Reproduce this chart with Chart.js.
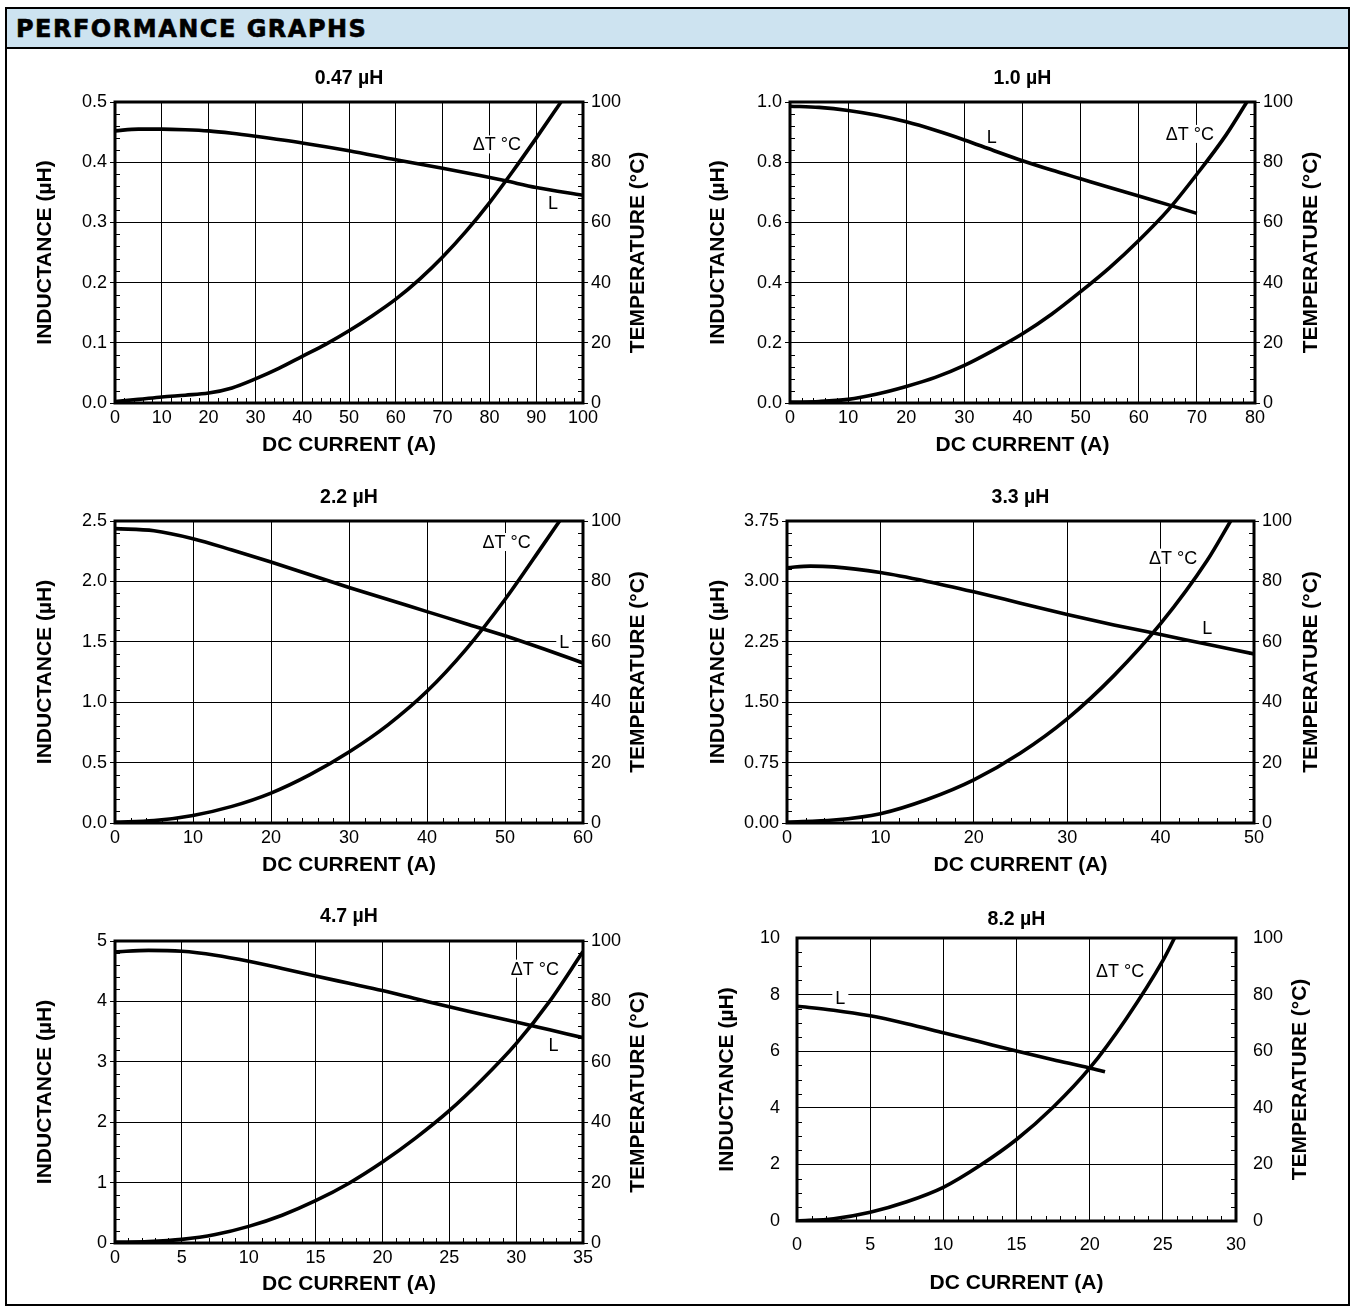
<!DOCTYPE html>
<html>
<head>
<meta charset="utf-8">
<script src="https://cdn.jsdelivr.net/npm/chart.js@4.4.1/dist/chart.umd.min.js"></script>
<style>
html,body{margin:0;padding:0;background:#fff;}
body{width:1354px;height:1310px;position:relative;overflow:hidden;font-family:"Liberation Sans",Arial,sans-serif;}
#frame{position:absolute;left:5px;top:7px;width:1341px;height:1295px;border:2px solid #000;}
#header{position:absolute;left:0;top:0;width:1341px;height:38px;background:#cde3f0;border-bottom:2px solid #000;}
#header span{position:absolute;left:9px;top:1px;line-height:38px;font-family:"DejaVu Sans",sans-serif;font-weight:bold;font-size:24px;letter-spacing:1.5px;color:#000;-webkit-text-stroke:0.6px #000;}
canvas{position:absolute;}
</style>
</head>
<body>
<div id="frame"><div id="header"><span>PERFORMANCE GRAPHS</span></div></div>
<script>
// ---------------- DATA ----------------
const tempTicks = ['0','20','40','60','80','100'];

// 0.47 µH
const xTicks_047 = [0,10,20,30,40,50,60,70,80,90,100];
const lTicks_047 = ['0.0','0.1','0.2','0.3','0.4','0.5'];
const current_047_L = [0,5,10,15,20,25,30,40,50,60,70,78,83.5,90,100];
const inductance_047 = [0.452,0.455,0.455,0.454,0.452,0.448,0.443,0.432,0.419,0.404,0.39,0.378,0.369,0.358,0.345];
const current_047_T = [0,5,10,15,20,25,30,35,40,45,50,55,60,65,70,75,80,85,90,95.3];
const deltaT_047 = [0.5,1.2,2,2.6,3.3,5,8,11.5,15.5,19.5,24,29,34.5,41,48.5,57,66.5,77,88,100];

// 1.0 µH
const xTicks_10 = [0,10,20,30,40,50,60,70,80];
const lTicks_10 = ['0.0','0.2','0.4','0.6','0.8','1.0'];
const current_10_L = [0,5,10,15,20,25,30,35,40,45,50,55,60,65,70];
const inductance_10 = [0.986,0.982,0.972,0.956,0.934,0.906,0.874,0.839,0.805,0.774,0.745,0.716,0.688,0.659,0.63];
const current_10_T = [0,5,10,15,20,25,30,35,40,45,50,55,60,65,70,75,78.6];
const deltaT_10 = [0.3,0.5,1.2,3,5.5,8.5,12.5,17.5,23,29.5,37,45,54,64,76,89,100];

// 2.2 µH
const xTicks_22 = [0,10,20,30,40,50,60];
const lTicks_22 = ['0.0','0.5','1.0','1.5','2.0','2.5'];
const current_22_L = [0,5,10,15,20,25,30,35,40,45,50,55,60];
const inductance_22 = [2.437,2.42,2.354,2.26,2.16,2.055,1.95,1.85,1.75,1.65,1.55,1.44,1.325];
const current_22_T = [0,5,10,15,20,25,30,35,40,45,50,55,57];
const deltaT_22 = [0.3,0.8,2.5,5.5,9.9,16,23.5,32.5,43.6,57.5,74,92.5,100];

// 3.3 µH
const xTicks_33 = [0,10,20,30,40,50];
const lTicks_33 = ['0.00','0.75','1.50','2.25','3.00','3.75'];
const current_33_L = [0,2.5,5,10,15,20,25,30,35,40,45,50];
const inductance_33 = [3.17,3.19,3.18,3.11,3.0,2.87,2.73,2.59,2.46,2.34,2.22,2.10];
const current_33_T = [0,5,10,15,20,25,30,35,40,45,47.5];
const deltaT_33 = [0.3,1.0,3.1,7.8,14.3,23.2,34.5,48.8,66,87,100];

// 4.7 µH
const xTicks_47 = [0,5,10,15,20,25,30,35];
const lTicks_47 = ['0','1','2','3','4','5'];
const current_47_L = [0,2.5,5,7.5,10,12.5,15,17.5,20,22.5,25,27.5,30,32.5,35];
const inductance_47 = [4.82,4.845,4.83,4.765,4.665,4.545,4.42,4.30,4.18,4.045,3.91,3.785,3.66,3.53,3.40];
const current_47_T = [0,2.5,5,7.5,10,12.5,15,17.5,20,22.5,25,27.5,30,32.5,35];
const deltaT_47 = [0.3,0.5,1.2,2.8,5.5,9.2,14,19.8,26.8,34.8,43.8,54.3,66,80,96.5];

// 8.2 µH
const xTicks_82 = [0,5,10,15,20,25,30];
const lTicks_82 = ['0','2','4','6','8','10'];
const current_82_L = [0,2.5,5,7.5,10,12.5,15,17.5,20,21.05];
const inductance_82 = [7.59,7.45,7.25,6.97,6.65,6.33,6.01,5.7,5.41,5.27];
const current_82_T = [0,2.5,5,7.5,10,12.5,15,17.5,20,22.5,25,25.8];
const deltaT_82 = [0,0.8,3.1,6.8,11.9,19.6,28.8,40.2,54,71.5,92,100];

// ---------------- LAYOUT ----------------
const FONT = '"Liberation Sans", Arial, Helvetica, sans-serif';
Chart.defaults.font.family = FONT;
Chart.defaults.color = '#000';
const TICK_FONT = 18, TITLE_FONT = 19.5, AXIS_FONT = 21, NOTE_FONT = 18;

const specs = [
  {title:'0.47 µH', xL:current_047_L, yL:inductance_047, xT:current_047_T, yT:deltaT_047, xTicks:xTicks_047, lTicks:lTicks_047,
   plot:{l:115,t:102,r:583,b:403}, titleY:79, leftTitleX:45, rightTitleX:638, xLabelY:418, xTitleY:445, gap:8, tl:5, minorX:5, minorY:5,
   notes:[{text:'ΔT °C', x:81.6, y:0.4295},{text:'L', x:93.6, y:0.332}]},
  {title:'1.0 µH', xL:current_10_L, yL:inductance_10, xT:current_10_T, yT:deltaT_10, xTicks:xTicks_10, lTicks:lTicks_10,
   plot:{l:790,t:102,r:1255,b:403}, titleY:79, leftTitleX:718, rightTitleX:1311, xLabelY:418, xTitleY:445, gap:8, tl:5, minorX:5, minorY:5,
   notes:[{text:'ΔT °C', x:68.8, y:0.894},{text:'L', x:34.7, y:0.884}]},
  {title:'2.2 µH', xL:current_22_L, yL:inductance_22, xT:current_22_T, yT:deltaT_22, xTicks:xTicks_22, lTicks:lTicks_22,
   plot:{l:115,t:521,r:583,b:823}, titleY:498, leftTitleX:45, rightTitleX:638, xLabelY:838, xTitleY:865, gap:8, tl:5, minorX:5, minorY:5,
   notes:[{text:'ΔT °C', x:50.2, y:2.326},{text:'L', x:57.6, y:1.498}]},
  {title:'3.3 µH', xL:current_33_L, yL:inductance_33, xT:current_33_T, yT:deltaT_33, xTicks:xTicks_33, lTicks:lTicks_33,
   plot:{l:787,t:521,r:1254,b:823}, titleY:498, leftTitleX:718, rightTitleX:1311, xLabelY:838, xTitleY:865, gap:8, tl:5, minorX:5, minorY:5,
   notes:[{text:'ΔT °C', x:41.35, y:3.295},{text:'L', x:45.0, y:2.426}]},
  {title:'4.7 µH', xL:current_47_L, yL:inductance_47, xT:current_47_T, yT:deltaT_47, xTicks:xTicks_47, lTicks:lTicks_47,
   plot:{l:115,t:941,r:583,b:1243}, titleY:917, leftTitleX:45, rightTitleX:638, xLabelY:1258, xTitleY:1284, gap:8, tl:5, minorX:5, minorY:5,
   notes:[{text:'ΔT °C', x:31.4, y:4.543},{text:'L', x:32.8, y:3.273}]},
  {title:'8.2 µH', xL:current_82_L, yL:inductance_82, xT:current_82_T, yT:deltaT_82, xTicks:xTicks_82, lTicks:lTicks_82,
   plot:{l:797,t:938,r:1236,b:1221}, titleY:920, leftTitleX:727, rightTitleX:1300, xLabelY:1245, xTitleY:1283, gap:17, tl:0, minorX:5, minorY:4,
   notes:[{text:'ΔT °C', x:22.08, y:8.835},{text:'L', x:2.96, y:7.896}]}
];

function makeDeco(s, rightTitleX) {
  return {
    id: 'deco',
    beforeDatasetsDraw(chart) {
      const ctx = chart.ctx, a = chart.chartArea;
      const xs = chart.scales.x, yl = chart.scales.y, yr = chart.scales.y2;
      ctx.save();
      ctx.strokeStyle = '#000';
      ctx.lineWidth = 1;
      const seg = (x1,y1,x2,y2)=>{ctx.beginPath();ctx.moveTo(x1,y1);ctx.lineTo(x2,y2);ctx.stroke();};
      const xv = s.xTicks;
      for (let i=0;i<xv.length-1;i++) for (let k=1;k<s.minorX;k++) {
        const px = Math.round(xs.getPixelForValue(xv[i]+(xv[i+1]-xv[i])*k/s.minorX))+0.5;
        seg(px, a.bottom, px, a.bottom-5);
      }
      const lv = s.lTicks.map(parseFloat);
      for (let i=0;i<lv.length-1;i++) for (let k=1;k<s.minorY;k++) {
        const py = Math.round(yl.getPixelForValue(lv[i]+(lv[i+1]-lv[i])*k/s.minorY))+0.5;
        seg(a.left, py, a.left+5, py);
      }
      const tv = tempTicks.map(parseFloat);
      for (let i=0;i<tv.length-1;i++) for (let k=1;k<s.minorY;k++) {
        const py = Math.round(yr.getPixelForValue(tv[i]+(tv[i+1]-tv[i])*k/s.minorY))+0.5;
        seg(a.right-5, py, a.right, py);
      }
      ctx.font = NOTE_FONT + 'px ' + FONT;
      ctx.textAlign = 'center';
      ctx.textBaseline = 'middle';
      s.notes.forEach(n => {
        const px = xs.getPixelForValue(n.x), py = yl.getPixelForValue(n.y);
        const w = ctx.measureText(n.text).width + 6;
        ctx.fillStyle = '#fff';
        ctx.fillRect(px - w/2, py - 9, w, 18);
        ctx.fillStyle = '#000';
        ctx.fillText(n.text, px, py + 1);
      });
      ctx.restore();
    },
    afterDatasetsDraw(chart) {
      const ctx = chart.ctx, a = chart.chartArea;
      ctx.save();
      ctx.strokeStyle = '#000';
      ctx.lineWidth = 3;
      ctx.strokeRect(a.left, a.top, a.right - a.left, a.bottom - a.top);
      // right axis title, reading bottom-to-top as in the reference
      const t = chart.options.scales.y2.title;
      ctx.translate(rightTitleX, (a.top + a.bottom)/2);
      ctx.rotate(-Math.PI/2);
      ctx.font = 'bold ' + AXIS_FONT + 'px ' + FONT;
      ctx.fillStyle = '#000';
      ctx.textAlign = 'center';
      ctx.textBaseline = 'middle';
      ctx.fillText(t.text, 0, 0);
      ctx.restore();
    }
  };
}

specs.forEach(s => {
  const p = s.plot;
  const lhT = TITLE_FONT*1.2, lhA = AXIS_FONT*1.2, lhK = TICK_FONT*1.2;
  const cx = (p.l + p.r)/2;
  const half = Math.max(cx - (s.leftTitleX - lhA/2 - 2), (s.rightTitleX + lhA/2 + 2) - cx);
  const cL = Math.floor(cx - half), W = Math.ceil(2*half);
  const cT = Math.floor(s.titleY - lhT/2 - 3);
  const cB = Math.ceil(s.xTitleY + lhA/2 + 3);
  const H = cB - cT;
  const leftW = p.l - cL, rightW = cL + W - p.r, xH = cB - p.b;
  const titlePadTop = s.titleY - lhT/2 - cT;
  const titlePadBot = (p.t - cT) - titlePadTop - lhT;

  const cv = document.createElement('canvas');
  cv.width = W; cv.height = H;
  cv.style.left = cL + 'px'; cv.style.top = cT + 'px';
  cv.style.width = W + 'px'; cv.style.height = H + 'px';
  document.body.appendChild(cv);

  const xVals = s.xTicks, lVals = s.lTicks.map(parseFloat), tVals = tempTicks.map(parseFloat);
  new Chart(cv.getContext('2d'), {
    type: 'line',
    data: {
      datasets: [
        {label:'L', data: s.xL.map((x,i)=>({x, y:s.yL[i]})), yAxisID:'y', borderColor:'#000', borderWidth:3.6,
         pointRadius:0, cubicInterpolationMode:'monotone', fill:false},
        {label:'ΔT °C', data: s.xT.map((x,i)=>({x, y:s.yT[i]})), yAxisID:'y2', borderColor:'#000', borderWidth:3.6,
         pointRadius:0, cubicInterpolationMode:'monotone', fill:false}
      ]
    },
    options: {
      responsive:false, animation:false, devicePixelRatio:1,
      layout:{padding:0},
      plugins:{
        legend:{display:false}, tooltip:{enabled:false},
        title:{display:true, text:s.title, color:'#000', font:{size:TITLE_FONT, weight:'bold', family:FONT, lineHeight:1.2},
               padding:{top:titlePadTop, bottom:titlePadBot}}
      },
      scales:{
        x:{type:'linear', position:'bottom', min:xVals[0], max:xVals[xVals.length-1],
           afterBuildTicks: sc => { sc.ticks = xVals.map(v=>({value:v})); },
           ticks:{autoSkip:false, maxRotation:0, color:'#000', font:{size:TICK_FONT}, padding:(s.xLabelY - p.b) - lhK/2,
                  callback:(v,i)=>String(xVals[i])},
           grid:{color:'#000', lineWidth:1, drawTicks:false},
           border:{display:false},
           title:{display:true, text:'DC CURRENT (A)', color:'#000', font:{size:AXIS_FONT, weight:'bold', lineHeight:1.2},
                  padding:{top:0, bottom:(cB - s.xTitleY) - lhA/2}},
           afterFit: sc => { sc.height = xH; }},
        y:{type:'linear', position:'left', min:lVals[0], max:lVals[lVals.length-1],
           afterBuildTicks: sc => { sc.ticks = lVals.map(v=>({value:v})); },
           ticks:{color:'#000', font:{size:TICK_FONT}, padding:s.gap - s.tl, callback:(v,i)=>s.lTicks[i]},
           grid:{color:'#000', lineWidth:1, drawTicks:s.tl>0, tickLength:s.tl},
           border:{display:false},
           title:{display:true, text:'INDUCTANCE (µH)', color:'#000', font:{size:AXIS_FONT, weight:'bold', lineHeight:1.2},
                  padding:{top:(s.leftTitleX - cL) - lhA/2, bottom:0}},
           afterFit: sc => { sc.width = leftW; }},
        y2:{type:'linear', position:'right', min:tVals[0], max:tVals[tVals.length-1],
           afterBuildTicks: sc => { sc.ticks = tVals.map(v=>({value:v})); },
           ticks:{color:'#000', font:{size:TICK_FONT}, padding:s.gap - s.tl, callback:(v,i)=>tempTicks[i]},
           grid:{display:s.tl>0, color:'#000', lineWidth:1, drawOnChartArea:false, drawTicks:true, tickLength:s.tl},
           border:{display:false},
           title:{display:false, text:'TEMPERATURE (°C)', color:'#000', font:{size:AXIS_FONT, weight:'bold', lineHeight:1.2}},
           afterFit: sc => { sc.width = rightW; }}
      }
    },
    plugins:[makeDeco(s, s.rightTitleX - cL)]
  });
});
</script>
</body>
</html>
